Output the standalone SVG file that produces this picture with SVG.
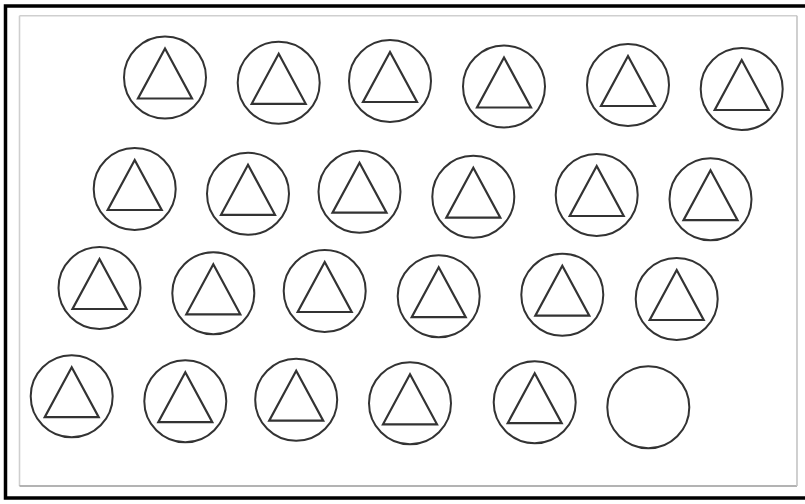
<svg xmlns="http://www.w3.org/2000/svg" width="805" height="504" viewBox="0 0 805 504">
<style>
.c{fill:none;stroke:#333;stroke-width:2}
.t{fill:none;stroke:#333;stroke-width:2.2;stroke-linejoin:miter}
</style>
<defs>
<g id="ct"><circle class="c" cx="0" cy="0" r="41"/><polygon class="t" points="0,-29 27,21 -27,21"/></g>
</defs>
<rect x="0" y="0" width="805" height="504" fill="#fff"/>
<rect x="5.5" y="6" width="803" height="492" fill="none" stroke="#000" stroke-width="3.5"/>
<g id="frame">
<line x1="19.5" y1="15.8" x2="797" y2="15.8" stroke="#cfcfcf" stroke-width="1.6"/>
<line x1="19.5" y1="15.8" x2="19.5" y2="486" stroke="#cfcfcf" stroke-width="1.6"/>
<line x1="19.5" y1="486" x2="797" y2="486" stroke="#9a9a9a" stroke-width="1.6"/>
<line x1="797" y1="15.8" x2="797" y2="486" stroke="#c4c4c4" stroke-width="1.6"/>
</g>
<g id="connectors"/>
<g id="n1"><use href="#ct" x="165" y="77.5"/></g>
<g id="n2"><use href="#ct" x="278.7" y="82.8"/></g>
<g id="n3"><use href="#ct" x="390" y="81"/></g>
<g id="n4"><use href="#ct" x="504" y="86.5"/></g>
<g id="n5"><use href="#ct" x="628" y="85"/></g>
<g id="n6"><use href="#ct" x="741.7" y="89"/></g>
<g id="n7"><use href="#ct" x="134.7" y="189"/></g>
<g id="n8"><use href="#ct" x="248" y="193.8"/></g>
<g id="n9"><use href="#ct" x="359.5" y="191.7"/></g>
<g id="n10"><use href="#ct" x="473.3" y="196.7"/></g>
<g id="n11"><use href="#ct" x="596.7" y="195"/></g>
<g id="n12"><use href="#ct" x="710.5" y="199.2"/></g>
<g id="n13"><use href="#ct" x="99.5" y="288"/></g>
<g id="n14"><use href="#ct" x="213.3" y="293.3"/></g>
<g id="n15"><use href="#ct" x="324.7" y="291"/></g>
<g id="n16"><use href="#ct" x="438.7" y="296.2"/></g>
<g id="n17"><use href="#ct" x="562.3" y="294.7"/></g>
<g id="n18"><use href="#ct" x="676.7" y="299"/></g>
<g id="n19"><use href="#ct" x="71.7" y="396.2"/></g>
<g id="n20"><use href="#ct" x="185.3" y="401.2"/></g>
<g id="n21"><use href="#ct" x="296.2" y="399.7"/></g>
<g id="n22"><use href="#ct" x="410" y="403.3"/></g>
<g id="n23"><use href="#ct" x="534.7" y="402.2"/></g>
<g id="n24"><circle class="c" cx="648.3" cy="407.3" r="41"/></g>
</svg>
